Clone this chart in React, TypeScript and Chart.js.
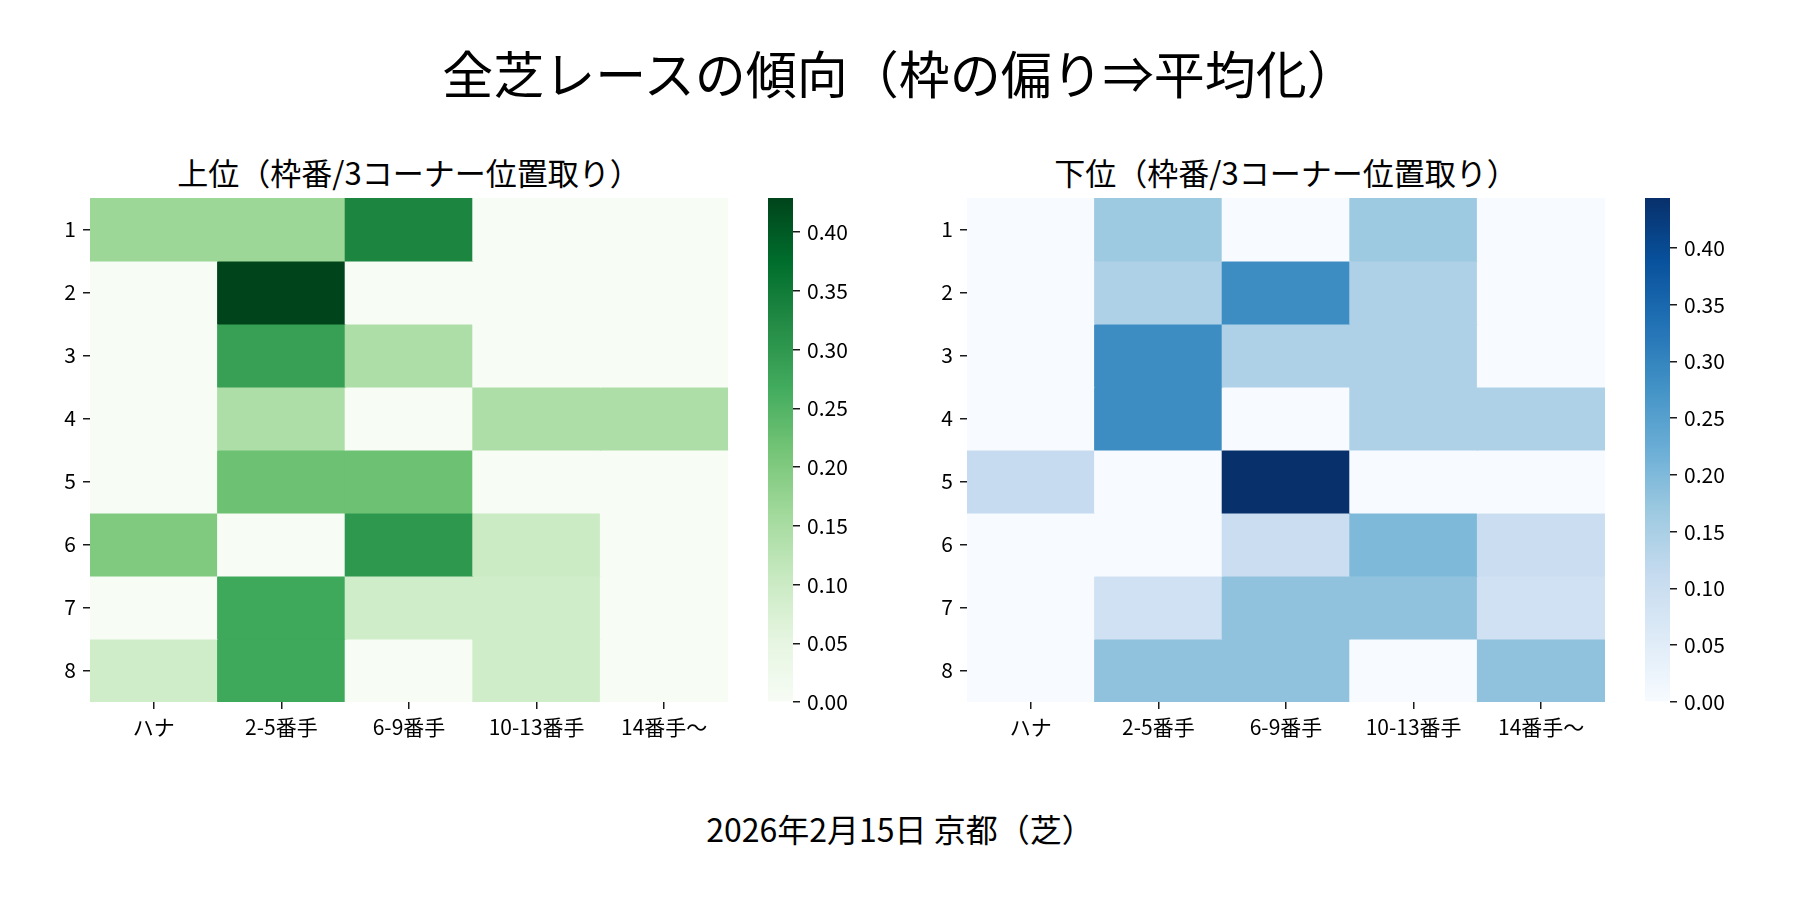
import React, { useEffect, useRef } from 'react';
import { Chart, registerables } from 'chart.js';

Chart.register(...registerables);

const FONT = '"Noto Sans CJK JP", "Noto Sans", sans-serif';
Chart.defaults.font.family = FONT;

// rows = 枠番 1..8, columns = 3コーナー位置取り
const frames = [1, 2, 3, 4, 5, 6, 7, 8];
const positions = ['ハナ', '2-5番手', '6-9番手', '10-13番手', '14番手〜'];

const upperShare = [
  [0.167, 0.167, 0.333, 0, 0],
  [0, 0.429, 0, 0, 0],
  [0, 0.286, 0.143, 0, 0],
  [0, 0.143, 0, 0.143, 0.143],
  [0, 0.222, 0.222, 0, 0],
  [0.2, 0, 0.3, 0.1, 0],
  [0, 0.273, 0.091, 0.091, 0],
  [0.091, 0.273, 0, 0.091, 0],
];

const lowerShare = [
  [0, 0.167, 0, 0.167, 0],
  [0, 0.143, 0.286, 0.143, 0],
  [0, 0.286, 0.143, 0.143, 0],
  [0, 0.286, 0, 0.143, 0.143],
  [0.111, 0, 0.444, 0, 0],
  [0, 0, 0.1, 0.2, 0.1],
  [0, 0.091, 0.182, 0.182, 0.091],
  [0, 0.182, 0.182, 0, 0.182],
];

const upperBarTicks = [0, 0.05, 0.1, 0.15, 0.2, 0.25, 0.3, 0.35, 0.4];
const lowerBarTicks = [0, 0.05, 0.1, 0.15, 0.2, 0.25, 0.3, 0.35, 0.4];

// matplotlib Greens / Blues anchors
const GREENS = [
  [247, 252, 245], [229, 245, 224], [199, 233, 192], [161, 217, 155], [116, 196, 118],
  [65, 171, 93], [35, 139, 69], [0, 109, 44], [0, 68, 27],
];
const BLUES = [
  [247, 251, 255], [222, 235, 247], [198, 219, 239], [158, 202, 225], [107, 174, 214],
  [66, 146, 198], [33, 113, 181], [8, 81, 156], [8, 48, 107],
];

function colorAt(cmap: number[][], t: number) {
  const tt = Math.min(1, Math.max(0, t));
  const seg = tt * (cmap.length - 1);
  const i = Math.min(cmap.length - 2, Math.floor(seg));
  const f = seg - i;
  const c = cmap[i].map((v, k) => Math.round(v + (cmap[i + 1][k] - v) * f));
  return `rgb(${c[0]}, ${c[1]}, ${c[2]})`;
}

const TICK_COLOR = '#1a1a1a';
const AREA_TOP = 198;
const AREA_H = 504;
const AREA_W = 638;
const Y_AXIS_W = 80;
const X_AXIS_H = 60;
const PAD = 24; // must exceed half tick-label height + tick padding

interface HeatmapProps {
  values: number[][];
  cmap: number[][];
  left: number; // chart area left edge
}

function Heatmap({ values, cmap, left }: HeatmapProps) {
  const chartRef = useRef<HTMLCanvasElement>(null);

  useEffect(() => {
    if (!chartRef.current) return;
    const vmax = Math.max(...values.flat());

    const chart = new Chart(chartRef.current, {
      type: 'bar',
      data: {
        labels: positions,
        datasets: frames.map((f, r) => ({
          data: positions.map(() => [f - 0.5, f + 0.5] as [number, number]),
          backgroundColor: values[r].map((v) => colorAt(cmap, v / vmax)),
          borderWidth: 0,
          barPercentage: 1,
          categoryPercentage: 1,
          grouped: false,
          inflateAmount: 0.5,
        })),
      },
      options: {
        responsive: true,
        maintainAspectRatio: false,
        animation: false,
        layout: { padding: { top: PAD, right: PAD, left: 0, bottom: 0 } },
        plugins: { legend: { display: false }, tooltip: { enabled: false } },
        scales: {
          x: {
            type: 'category',
            offset: true,
            grid: { offset: false, drawOnChartArea: false, tickLength: 7, color: TICK_COLOR, lineWidth: 1.5 },
            border: { display: false },
            ticks: { font: { size: 21 }, color: '#000', padding: 5, maxRotation: 0, autoSkip: false },
            afterFit: (s: any) => { s.height = X_AXIS_H; },
          },
          y: {
            type: 'linear',
            min: 0.5,
            max: 8.5,
            reverse: true,
            afterBuildTicks: (s: any) => { s.ticks = frames.map((v) => ({ value: v })); },
            afterFit: (s: any) => { s.width = Y_AXIS_W; },
            grid: { drawOnChartArea: false, tickLength: 7, color: TICK_COLOR, lineWidth: 1.5 },
            border: { display: false },
            ticks: { font: { size: 21 }, color: '#000', padding: 7, callback: (v: any) => String(v) },
          },
        },
      },
    });

    return () => {
      chart.destroy();
    };
  }, [values, cmap]);

  return (
    <div style={{ position: 'absolute', left: left - Y_AXIS_W, top: AREA_TOP - PAD, width: Y_AXIS_W + AREA_W + PAD, height: PAD + AREA_H + X_AXIS_H }}>
      <canvas ref={chartRef} />
    </div>
  );
}

interface ColorbarProps {
  vmax: number;
  cmap: number[][];
  ticks: number[];
  left: number;
}

function Colorbar({ vmax, cmap, ticks, left }: ColorbarProps) {
  const chartRef = useRef<HTMLCanvasElement>(null);

  useEffect(() => {
    if (!chartRef.current) return;

    const chart = new Chart(chartRef.current, {
      type: 'bar',
      data: {
        labels: [''],
        datasets: [
          {
            data: [[0, vmax] as [number, number]],
            backgroundColor: (ctx: any) => {
              const c = ctx.chart;
              if (!c.chartArea) return colorAt(cmap, 0.5);
              const y0 = c.scales.y.getPixelForValue(0);
              const y1 = c.scales.y.getPixelForValue(vmax);
              const g = c.ctx.createLinearGradient(0, y0, 0, y1);
              cmap.forEach((col, i) => g.addColorStop(i / (cmap.length - 1), `rgb(${col[0]}, ${col[1]}, ${col[2]})`));
              return g;
            },
            borderWidth: 0,
            barPercentage: 1,
            categoryPercentage: 1,
            inflateAmount: 0,
          },
        ],
      },
      options: {
        responsive: true,
        maintainAspectRatio: false,
        animation: false,
        layout: { padding: { top: PAD, bottom: PAD, left: 0, right: 0 } },
        plugins: { legend: { display: false }, tooltip: { enabled: false } },
        scales: {
          x: { display: false },
          y: {
            position: 'right',
            min: 0,
            max: vmax,
            afterBuildTicks: (s: any) => { s.ticks = ticks.map((v) => ({ value: v })); },
            afterFit: (s: any) => { s.width = 90; },
            grid: { drawOnChartArea: false, tickLength: 7, color: TICK_COLOR, lineWidth: 1.5 },
            border: { display: false },
            ticks: { font: { size: 21 }, color: '#000', padding: 7, callback: (v: any) => Number(v).toFixed(2) },
          },
        },
      },
    });

    return () => {
      chart.destroy();
    };
  }, [vmax, cmap, ticks]);

  return (
    <div style={{ position: 'absolute', left, top: AREA_TOP - PAD, width: 25 + 90, height: PAD + AREA_H + PAD }}>
      <canvas ref={chartRef} />
    </div>
  );
}

const textStyle = (size: number, top: number, left: number, width: number): React.CSSProperties => ({
  position: 'absolute',
  top,
  left,
  width,
  textAlign: 'center',
  fontFamily: FONT,
  fontSize: size,
  lineHeight: `${size}px`,
  color: '#000',
  whiteSpace: 'nowrap',
});

export default function App() {
  return (
    <div style={{ position: 'absolute', left: 0, top: 0, width: 1800, height: 900, background: '#fff', overflow: 'hidden' }}>
      <div style={textStyle(51, 47, 0, 1800)}>全芝レースの傾向（枠の偏り⇒平均化）</div>
      <div style={textStyle(31, 156, 90, AREA_W)}>上位（枠番/3コーナー位置取り）</div>
      <div style={textStyle(31, 156, 967, AREA_W)}>下位（枠番/3コーナー位置取り）</div>
      <Heatmap values={upperShare} cmap={GREENS} left={90} />
      <Colorbar vmax={Math.max(...upperShare.flat())} cmap={GREENS} ticks={upperBarTicks} left={768} />
      <Heatmap values={lowerShare} cmap={BLUES} left={967} />
      <Colorbar vmax={Math.max(...lowerShare.flat())} cmap={BLUES} ticks={lowerBarTicks} left={1645} />
      <div style={textStyle(32, 812, 0, 1800)}>2026年2月15日 京都（芝）</div>
    </div>
  );
}
